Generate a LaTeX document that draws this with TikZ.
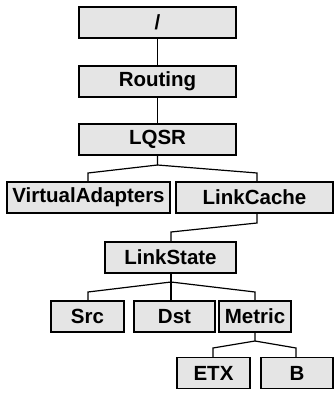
\documentclass[tikz,border=0pt]{standalone}
\usepackage{fontspec}
\setmainfont{Liberation Sans}
\begin{document}
\begin{tikzpicture}[x=1pt, y=-1pt, line width=1.2pt,
    box/.style={draw, fill=black!10, minimum height=31pt, inner sep=0pt,
      font=\fontsize{20.5}{22}\selectfont\bfseries}]
    \useasboundingbox (0,0) rectangle (334,394);
    % ノードの定義
    \node[box, minimum width=157pt] (root) at (157.5, 22.5) {/};
    \node[box, minimum width=157pt] (routing) at (157.5, 81.5) {Routing};
    \node[box, minimum width=157pt] (lqsr) at (157.5, 139.5) {LQSR};
    \node[box, minimum width=163pt] (virt) at (88.5, 197.5) {VirtualAdapters};
    \node[box, minimum width=157pt] (cache) at (254.5, 197.5) {LinkCache};
    \node[box, minimum width=131pt] (state) at (170.5, 257.5) {LinkState};
    \node[box, minimum width=73pt] (src) at (87.5, 316.5) {Src};
    \node[box, minimum width=81pt] (dst) at (174.5, 316.5) {Dst};
    \node[box, minimum width=72pt] (metric) at (255, 316.5) {Metric};
    \node[box, minimum width=73pt] (etx) at (213.5, 373) {ETX};
    \node[box, minimum width=72pt] (b) at (297, 373) {B};

    % 分岐点
    \coordinate (q0) at (157.5, 165);
    \coordinate (q1) at (88, 173);
    \coordinate (q2) at (257, 173);
    \coordinate (c0) at (257, 223);
    \coordinate (c1) at (171, 232);
    \coordinate (s0) at (171, 282);
    \coordinate (s1) at (88, 292);
    \coordinate (s2) at (255, 292);
    \coordinate (m0) at (255, 341);
    \coordinate (m1) at (213, 348);
    \coordinate (m2) at (296, 348);

    % エッジを引く
    \draw (root) -- (routing);
    \draw (routing) -- (lqsr);
    \draw (lqsr.south) -- (q0) -- (q1) -- (q1 |- virt.north);
    \draw (q0) -- (q2) -- (q2 |- cache.north);
    \draw (c0 |- cache.south) -- (c0) -- (c1) -- (c1 |- state.north);
    \draw (s0 |- state.south) -- (s0) -- (s0 |- dst.north);
    \draw (s0) -- (s1) -- (s1 |- src.north);
    \draw (s0) -- (s2) -- (s2 |- metric.north);
    \draw (metric.south) -- (m0) -- (m1) -- (m1 |- etx.north);
    \draw (m0) -- (m2) -- (m2 |- b.north);

  \end{tikzpicture}
\end{document}
